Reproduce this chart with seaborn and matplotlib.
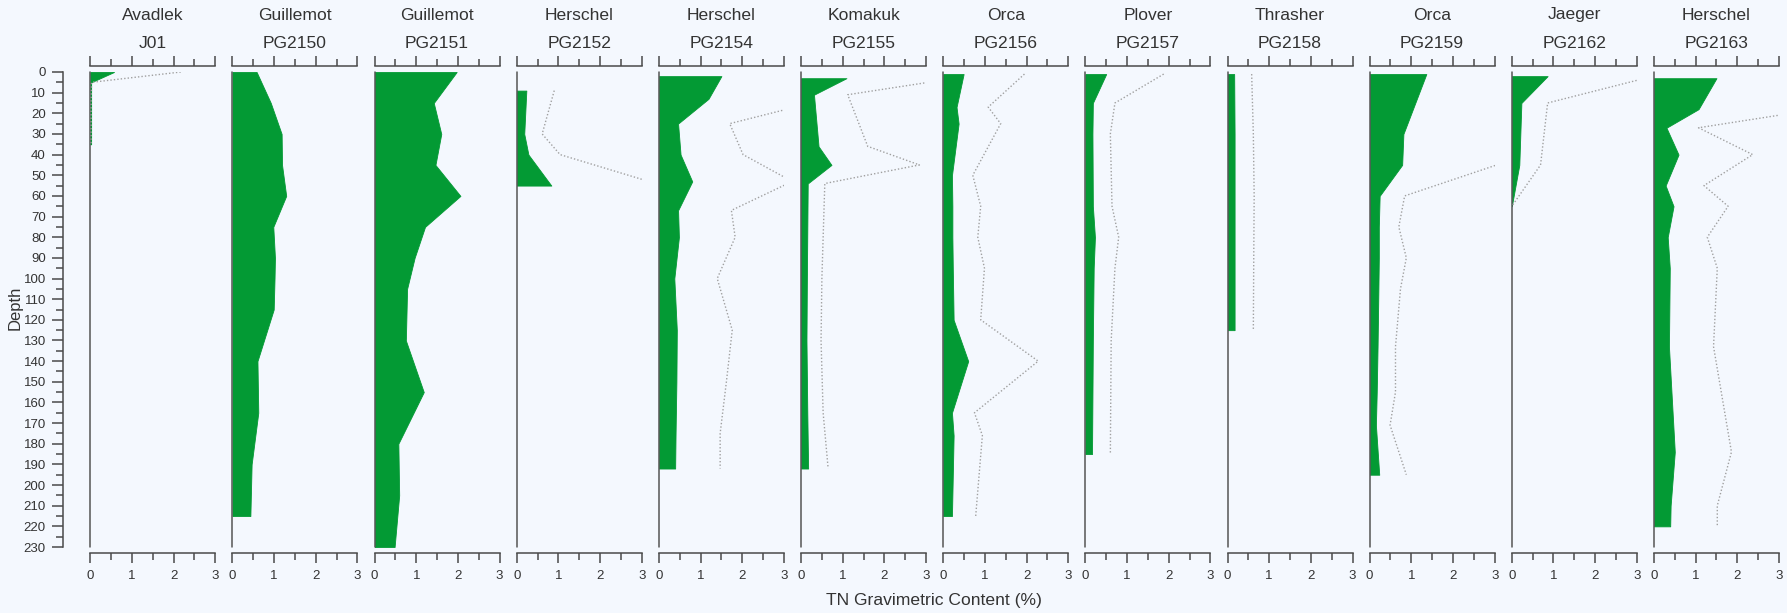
import matplotlib
matplotlib.use("Agg")
import matplotlib.pyplot as plt
from matplotlib import font_manager
from matplotlib.ticker import MultipleLocator
import numpy as np
import pandas as pd
import seaborn as sns

# site names and core ids (one panel each)
sites = ["Avadlek", "Guillemot", "Guillemot", "Herschel", "Herschel", "Komakuk",
         "Orca", "Plover", "Thrasher", "Orca", "Jaeger", "Herschel"]
cores = ["J01", "PG2150", "PG2151", "PG2152", "PG2154", "PG2155",
         "PG2156", "PG2157", "PG2158", "PG2159", "PG2162", "PG2163"]

# depth (cm) of samples per core
depth_J01 = [0, 5, 15, 25, 35]
depth_PG2150 = [0, 15, 30, 45, 60, 75, 90, 100, 115, 140, 165, 190, 215]
depth_PG2151 = [0, 15, 30, 45, 60, 75, 90, 105, 130, 155, 180, 205, 230]
depth_PG2152 = [9, 30, 40, 55]
depth_PG2154 = [2, 13, 25, 40, 53, 67, 80, 100, 125, 150, 175, 192]
depth_PG2155 = [3, 11, 36, 45, 54, 100, 130, 165, 192]
depth_PG2156 = [1, 17, 25, 50, 65, 80, 95, 120, 140, 165, 176, 215]
depth_PG2157 = [1, 15, 30, 65, 80, 95, 130, 185]
depth_PG2158 = [1, 30, 60, 90, 125]
depth_PG2159 = [1, 30, 45, 60, 75, 90, 105, 133, 155, 171, 195]
depth_PG2162 = [2, 15, 45, 65]
depth_PG2163 = [3, 18, 27, 40, 55, 65, 80, 95, 133, 184, 210, 220]

# TN gravimetric content (%) - green fill
tn_J01 = [0.57, 0.02, 0.02, 0.02, 0.02]
tn_PG2150 = [0.58, 0.92, 1.18, 1.19, 1.29, 0.98, 1.02, 1.01, 0.99, 0.60, 0.62, 0.46, 0.43]
tn_PG2151 = [1.97, 1.42, 1.60, 1.46, 2.06, 1.21, 0.96, 0.78, 0.75, 1.18, 0.57, 0.59, 0.48]
tn_PG2152 = [0.23, 0.18, 0.28, 0.83]
tn_PG2154 = [1.50, 1.19, 0.46, 0.52, 0.80, 0.46, 0.48, 0.37, 0.43, 0.42, 0.40, 0.39]
tn_PG2155 = [1.09, 0.31, 0.42, 0.73, 0.16, 0.14, 0.13, 0.15, 0.17]
tn_PG2156 = [0.49, 0.32, 0.37, 0.21, 0.22, 0.22, 0.23, 0.25, 0.60, 0.21, 0.25, 0.21]
tn_PG2157 = [0.50, 0.18, 0.17, 0.18, 0.23, 0.20, 0.18, 0.16]
tn_PG2158 = [0.16, 0.17, 0.17, 0.17, 0.17]
tn_PG2159 = [1.36, 0.81, 0.78, 0.24, 0.22, 0.22, 0.21, 0.19, 0.17, 0.15, 0.23]
tn_PG2162 = [0.86, 0.23, 0.18, 0.0]
tn_PG2163 = [1.50, 1.07, 0.30, 0.59, 0.28, 0.47, 0.33, 0.38, 0.36, 0.50, 0.40, 0.39]

# second series (dotted grey line), None where not shown
dot_J01 = [2.17, 0.03, 0.02, 0.02, 0.02]
dot_PG2150 = None
dot_PG2151 = None
dot_PG2152 = [0.90, 0.61, 1.04, 3.5]
dot_PG2154 = [4.5, 4.06, 1.70, 2.02, 3.2, 1.74, 1.83, 1.40, 1.76, 1.62, 1.47, 1.47]
dot_PG2155 = [3.7, 1.12, 1.60, 2.84, 0.57, 0.50, 0.48, 0.53, 0.65]
dot_PG2156 = [1.95, 1.08, 1.38, 0.71, 0.90, 0.83, 0.99, 0.90, 2.28, 0.75, 0.94, 0.78]
dot_PG2157 = [1.88, 0.71, 0.60, 0.64, 0.80, 0.71, 0.62, 0.60]
dot_PG2158 = [0.58, 0.62, 0.64, 0.63, 0.62]
dot_PG2159 = [5.0, 4.0, 3.05, 0.84, 0.70, 0.88, 0.74, 0.62, 0.62, 0.49, 0.88]
dot_PG2162 = [3.4, 0.86, 0.69, 0.0]
dot_PG2163 = [4.5, 3.93, 1.07, 2.37, 1.20, 1.78, 1.28, 1.52, 1.43, 1.86, 1.52, 1.52]

depths = [depth_J01, depth_PG2150, depth_PG2151, depth_PG2152, depth_PG2154, depth_PG2155,
          depth_PG2156, depth_PG2157, depth_PG2158, depth_PG2159, depth_PG2162, depth_PG2163]
tns = [tn_J01, tn_PG2150, tn_PG2151, tn_PG2152, tn_PG2154, tn_PG2155,
       tn_PG2156, tn_PG2157, tn_PG2158, tn_PG2159, tn_PG2162, tn_PG2163]
dots = [dot_J01, dot_PG2150, dot_PG2151, dot_PG2152, dot_PG2154, dot_PG2155,
        dot_PG2156, dot_PG2157, dot_PG2158, dot_PG2159, dot_PG2162, dot_PG2163]

sns.set_theme(style="white")
plt.rcParams['font.family'] = ['Liberation Sans', 'DejaVu Sans']
names = {f.name for f in font_manager.fontManager.ttflist}
tick_family = 'Liberation Sans Narrow' if 'Liberation Sans Narrow' in names else 'Liberation Sans'

bg = '#F4F8FE'
green = '#039A34'
txt = '#333333'
axc = '#4a4a4a'

W, H = 1787, 613
fig = plt.figure(figsize=(W / 100, H / 100), dpi=100)
fig.patch.set_facecolor(bg)

left0 = 90.3
pw = 125.0
step = 142.15
top_px, bot_px = 72, 547

for i in range(12):
    x0 = left0 + i * step
    ax = fig.add_axes([x0 / W, 1 - bot_px / H, pw / W, (bot_px - top_px) / H])
    ax.set_facecolor(bg)
    df = pd.DataFrame({'depth': depths[i], 'tn': tns[i]})
    ax.fill_betweenx(df['depth'], 0, df['tn'], color=green, lw=0.6, ec=green)
    if dots[i] is not None:
        df['dot'] = dots[i]
        sns.lineplot(data=df, x='dot', y='depth', orient='y', ax=ax, color='#a0a0a0',
                     linestyle=(0, (1, 1.5)), linewidth=1.0, estimator=None)
    ax.plot([0, 0], [0, 230], color='#555555', lw=1.1, clip_on=False, zorder=1)
    ax.set_xlim(0, 3)
    ax.set_ylim(230, 0)
    ax.set_xlabel('')
    ax.set_ylabel('')

    ax.spines['right'].set_visible(False)
    for s in ['top', 'bottom']:
        ax.spines[s].set_position(('outward', 4.5))
        ax.spines[s].set_color(axc)
        ax.spines[s].set_linewidth(1.1)
    ax.xaxis.set_major_locator(MultipleLocator(1))
    ax.xaxis.set_minor_locator(MultipleLocator(0.5))
    ax.tick_params(axis='x', which='both', top=True, bottom=True, direction='out',
                   color=axc, width=1.1, labeltop=False, labelbottom=True,
                   labelsize=9.5, labelcolor=txt, pad=5)
    ax.tick_params(axis='x', which='major', length=7)
    ax.tick_params(axis='x', which='minor', length=5)
    for lab in ax.get_xticklabels():
        lab.set_family(tick_family)

    if i == 0:
        ax.spines['left'].set_position(('outward', 20))
        ax.spines['left'].set_color(axc)
        ax.spines['left'].set_linewidth(1.1)
        ax.yaxis.set_major_locator(MultipleLocator(10))
        ax.yaxis.set_minor_locator(MultipleLocator(5))
        ax.tick_params(axis='y', which='both', left=True, direction='out', color=axc,
                       width=1.1, labelsize=9.5, labelcolor=txt, pad=4)
        ax.tick_params(axis='y', which='major', length=8)
        ax.tick_params(axis='y', which='minor', length=5)
        for lab in ax.get_yticklabels():
            lab.set_family(tick_family)
    else:
        ax.spines['left'].set_visible(False)
        ax.set_yticks([])

    xc = (x0 + pw / 2) / W
    fig.text(xc, 1 - 15 / H, sites[i], ha='center', va='center', fontsize=12.6, color=txt)
    fig.text(xc, 1 - 43 / H, cores[i], ha='center', va='center', fontsize=12.6, color=txt)

fig.text(934.5 / W, 1 - 600 / H, 'TN Gravimetric Content (%)', ha='center', va='center',
         fontsize=12.6, color=txt)
fig.text(15 / W, 1 - 308 / H, 'Depth', ha='center', va='center', rotation=90,
         fontsize=12, color=txt)

fig.savefig('out.png', dpi=100, facecolor=bg)
